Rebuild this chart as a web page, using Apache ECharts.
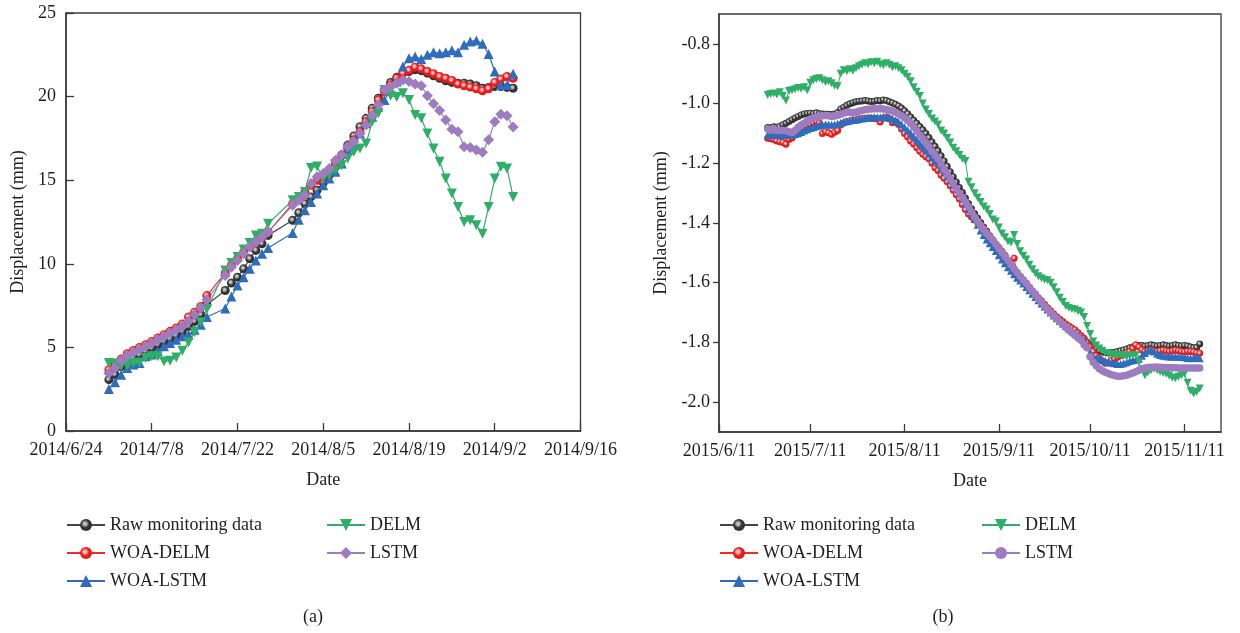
<!DOCTYPE html>
<html><head><meta charset="utf-8">
<script src="https://cdn.jsdelivr.net/npm/echarts@6/dist/echarts.min.js"></script>
<style>html,body{margin:0;padding:0;background:#fff;}#a{position:absolute;left:0;top:0;width:620px;height:633px;}#b{position:absolute;left:620px;top:0;width:620px;height:633px;}</style>
</head><body><div id="a"></div><div id="b"></div>
<script>
// ---------- Panel (a) ----------
const leftXTicks = ['2014/6/24','2014/7/8','2014/7/22','2014/8/5','2014/8/19','2014/9/2','2014/9/16'];
const leftDates = ['2014/7/1','2014/7/2','2014/7/3','2014/7/4','2014/7/5','2014/7/6','2014/7/7','2014/7/8','2014/7/9','2014/7/10','2014/7/11','2014/7/12','2014/7/13','2014/7/14','2014/7/15','2014/7/16','2014/7/17',
'2014/7/20','2014/7/21','2014/7/22','2014/7/23','2014/7/24','2014/7/25','2014/7/26','2014/7/27','2014/7/31',
'2014/8/1','2014/8/2','2014/8/3','2014/8/4','2014/8/5','2014/8/6','2014/8/7','2014/8/8','2014/8/9','2014/8/10','2014/8/11','2014/8/12','2014/8/13','2014/8/14','2014/8/15','2014/8/16','2014/8/17','2014/8/18','2014/8/19','2014/8/20','2014/8/21','2014/8/22','2014/8/23','2014/8/24','2014/8/25','2014/8/26','2014/8/27','2014/8/28','2014/8/29','2014/8/30','2014/8/31',
'2014/9/1','2014/9/2','2014/9/3','2014/9/4','2014/9/5'];
const leftRaw = [3.07,3.37,3.85,4.15,4.37,4.55,4.75,4.95,5.15,5.35,5.5,5.7,5.95,6.25,6.55,6.95,7.55,
8.4,8.85,9.2,9.7,10.3,10.8,11.2,11.7,12.6,
13.05,13.6,14.0,14.4,14.85,15.3,15.8,16.5,17.1,17.65,18.2,18.7,19.3,19.9,20.4,20.85,21.15,21.4,21.5,21.6,21.55,21.4,21.25,21.1,20.95,20.85,20.8,20.8,20.75,20.65,20.5,
20.55,20.6,20.6,20.55,20.5];
const leftWoaDelm = [3.66,4.0,4.3,4.62,4.82,5.0,5.16,5.36,5.56,5.76,5.96,6.16,6.4,6.82,7.1,7.45,8.1,
9.45,9.9,10.3,10.7,11.0,11.3,11.6,11.9,13.6,
13.9,14.3,14.7,15.0,15.3,15.6,16.0,16.5,16.9,17.4,17.9,18.5,19.1,19.8,20.3,20.7,21.1,21.4,21.57,21.76,21.66,21.5,21.37,21.2,21.1,20.97,20.75,20.65,20.57,20.47,20.35,
20.47,20.85,21.05,21.2,21.1];
const leftWoaLstm = [2.51,2.91,3.37,3.77,3.97,4.07,4.47,4.57,4.77,5.07,5.27,5.46,5.66,5.76,6.06,6.36,6.82,
7.33,8.05,8.7,9.2,9.7,10.2,10.6,10.95,11.84,
12.64,13.2,13.7,14.2,14.7,15.1,15.5,16.0,16.8,17.2,17.8,18.4,18.8,19.4,19.8,20.4,20.9,21.8,22.3,22.4,22.25,22.5,22.65,22.6,22.65,22.77,22.65,23.1,23.3,23.36,23.16,
22.55,21.5,20.7,20.7,21.37];
const leftDelm = [4.07,4.03,3.87,3.91,4.07,4.1,4.37,4.47,4.47,4.15,4.2,4.4,4.8,5.3,5.9,6.5,7.3,
9.6,10.05,10.4,10.85,11.25,11.7,11.8,12.4,13.8,
14.0,14.3,15.73,15.82,15.1,15.3,15.6,15.9,16.3,16.7,16.9,17.2,18.5,19.0,20.4,20.05,19.97,20.2,19.8,18.9,18.7,17.8,16.9,16.1,15.1,14.2,13.4,12.5,12.6,12.3,11.8,
13.4,15.1,15.8,15.7,14.0];
const leftLstm = [3.45,3.77,4.2,4.5,4.7,4.88,5.05,5.25,5.45,5.65,5.85,6.05,6.25,6.56,6.96,7.36,7.85,
9.3,9.8,10.2,10.6,11.0,11.3,11.6,11.9,13.5,
13.8,14.1,14.8,15.2,15.4,15.7,16.2,16.5,17.0,17.3,17.8,18.3,18.9,19.5,20.4,20.57,20.8,21.0,20.9,20.75,20.65,20.05,19.57,19.17,18.6,18.05,17.9,17.0,16.95,16.8,16.67,
17.42,18.5,18.95,18.85,18.18];

// ---------- Panel (b) ----------
const rightXTicks = ['2015/6/11','2015/7/11','2015/8/11','2015/9/11','2015/10/11','2015/11/11'];
const rightYTicks = [-2.0,-1.8,-1.6,-1.4,-1.2,-1.0,-0.8];
const rightStart = '2015/6/27'; // first daily sample
const rightRaw = [-1.080,-1.081,-1.078,-1.079,-1.076,-1.071,-1.066,-1.060,-1.054,-1.048,
-1.043,-1.038,-1.035,-1.033,-1.032,-1.033,-1.031,-1.034,-1.035,-1.036,
-1.036,-1.037,-1.035,-1.030,-1.018,-1.012,-1.006,-1.001,-0.997,-0.994,
-0.992,-0.991,-0.990,-0.991,-0.993,-0.992,-0.990,-0.991,-0.988,-0.990,
-0.994,-0.998,-1.002,-1.008,-1.015,-1.024,-1.034,-1.045,-1.056,-1.066,
-1.077,-1.088,-1.100,-1.114,-1.129,-1.143,-1.158,-1.175,-1.192,-1.210,
-1.228,-1.245,-1.263,-1.281,-1.298,-1.316,-1.335,-1.352,-1.368,-1.383,
-1.398,-1.413,-1.428,-1.443,-1.457,-1.472,-1.487,-1.501,-1.515,-1.529,
-1.543,-1.556,-1.569,-1.581,-1.593,-1.605,-1.617,-1.629,-1.641,-1.653,
-1.664,-1.675,-1.686,-1.697,-1.707,-1.716,-1.725,-1.734,-1.743,-1.751,
-1.759,-1.767,-1.775,-1.783,-1.791,-1.799,-1.807,-1.815,-1.822,-1.828,
-1.832,-1.834,-1.835,-1.834,-1.833,-1.830,-1.828,-1.825,-1.822,-1.818,
-1.815,-1.812,-1.810,-1.810,-1.812,-1.810,-1.808,-1.810,-1.812,-1.810,
-1.808,-1.810,-1.812,-1.810,-1.808,-1.810,-1.812,-1.810,-1.812,-1.815,
-1.818,-1.816,-1.805];
const rightWoaDelm = [-1.116,-1.118,-1.120,-1.125,-1.128,-1.130,-1.136,-1.120,-1.115,-1.105,
-1.098,-1.090,-1.082,-1.075,-1.070,-1.065,-1.060,-1.065,-1.100,-1.094,
-1.098,-1.103,-1.096,-1.090,-1.072,-1.065,-1.060,-1.058,-1.055,-1.055,
-1.052,-1.050,-1.050,-1.048,-1.050,-1.050,-1.052,-1.062,-1.048,-1.045,
-1.050,-1.064,-1.060,-1.070,-1.085,-1.100,-1.112,-1.125,-1.135,-1.148,
-1.160,-1.170,-1.178,-1.185,-1.200,-1.215,-1.225,-1.240,-1.250,-1.262,
-1.275,-1.290,-1.305,-1.320,-1.338,-1.355,-1.370,-1.380,-1.390,-1.398,
-1.408,-1.418,-1.430,-1.445,-1.458,-1.470,-1.482,-1.495,-1.508,-1.535,
-1.548,-1.518,-1.570,-1.582,-1.595,-1.606,-1.616,-1.628,-1.638,-1.650,
-1.660,-1.672,-1.684,-1.694,-1.704,-1.714,-1.722,-1.730,-1.738,-1.745,
-1.752,-1.758,-1.768,-1.778,-1.786,-1.800,-1.815,-1.830,-1.845,-1.855,
-1.862,-1.870,-1.868,-1.860,-1.855,-1.850,-1.845,-1.840,-1.835,-1.830,
-1.820,-1.808,-1.815,-1.825,-1.830,-1.828,-1.825,-1.828,-1.830,-1.828,
-1.826,-1.828,-1.830,-1.828,-1.826,-1.828,-1.830,-1.832,-1.830,-1.830,
-1.832,-1.835,-1.836];
const rightWoaLstm = [-1.105,-1.106,-1.104,-1.105,-1.106,-1.104,-1.105,-1.103,-1.104,-1.102,
-1.099,-1.095,-1.090,-1.086,-1.082,-1.079,-1.076,-1.073,-1.071,-1.070,
-1.070,-1.071,-1.070,-1.068,-1.064,-1.061,-1.059,-1.057,-1.055,-1.054,
-1.052,-1.050,-1.048,-1.047,-1.046,-1.045,-1.046,-1.046,-1.045,-1.046,
-1.048,-1.051,-1.056,-1.062,-1.070,-1.079,-1.089,-1.099,-1.110,-1.121,
-1.133,-1.144,-1.155,-1.168,-1.180,-1.190,-1.200,-1.215,-1.230,-1.244,
-1.258,-1.271,-1.285,-1.300,-1.315,-1.335,-1.355,-1.371,-1.387,-1.406,
-1.425,-1.440,-1.455,-1.468,-1.480,-1.494,-1.508,-1.522,-1.535,-1.548,
-1.560,-1.572,-1.583,-1.593,-1.603,-1.614,-1.625,-1.637,-1.648,-1.659,
-1.670,-1.680,-1.690,-1.700,-1.710,-1.719,-1.728,-1.737,-1.745,-1.753,
-1.760,-1.768,-1.775,-1.783,-1.790,-1.810,-1.835,-1.848,-1.853,-1.855,
-1.858,-1.862,-1.865,-1.868,-1.870,-1.872,-1.872,-1.870,-1.866,-1.862,
-1.860,-1.858,-1.855,-1.845,-1.835,-1.828,-1.825,-1.830,-1.838,-1.842,
-1.845,-1.846,-1.847,-1.848,-1.847,-1.848,-1.849,-1.850,-1.852,-1.853,
-1.852,-1.850,-1.853];
const rightDelm = [-0.971,-0.968,-0.966,-0.970,-0.962,-0.975,-0.990,-0.958,-0.955,-0.952,
-0.948,-0.950,-0.945,-0.955,-0.930,-0.922,-0.918,-0.915,-0.922,-0.928,
-0.925,-0.932,-0.940,-0.942,-0.900,-0.888,-0.892,-0.885,-0.890,-0.882,
-0.875,-0.870,-0.865,-0.868,-0.862,-0.865,-0.860,-0.868,-0.872,-0.865,
-0.870,-0.878,-0.875,-0.882,-0.888,-0.900,-0.910,-0.925,-0.945,-0.960,
-0.975,-1.000,-1.020,-1.035,-1.050,-1.060,-1.070,-1.090,-1.100,-1.115,
-1.130,-1.148,-1.160,-1.172,-1.185,-1.192,-1.262,-1.280,-1.300,-1.315,
-1.330,-1.345,-1.355,-1.370,-1.388,-1.395,-1.415,-1.435,-1.448,-1.462,
-1.465,-1.440,-1.470,-1.495,-1.510,-1.522,-1.540,-1.555,-1.568,-1.578,
-1.585,-1.590,-1.592,-1.600,-1.615,-1.632,-1.650,-1.665,-1.678,-1.684,
-1.688,-1.690,-1.695,-1.700,-1.715,-1.745,-1.772,-1.797,-1.810,-1.820,
-1.828,-1.835,-1.838,-1.840,-1.843,-1.845,-1.843,-1.845,-1.848,-1.845,
-1.842,-1.843,-1.865,-1.890,-1.910,-1.900,-1.893,-1.888,-1.892,-1.898,
-1.902,-1.905,-1.912,-1.918,-1.920,-1.915,-1.910,-1.905,-1.935,-1.962,
-1.971,-1.965,-1.954];
const rightLstm = [-1.085,-1.087,-1.088,-1.089,-1.089,-1.090,-1.091,-1.094,-1.097,-1.090,
-1.079,-1.072,-1.066,-1.058,-1.052,-1.048,-1.045,-1.043,-1.041,-1.040,
-1.041,-1.043,-1.042,-1.039,-1.036,-1.032,-1.029,-1.029,-1.030,-1.029,
-1.026,-1.023,-1.021,-1.019,-1.018,-1.017,-1.017,-1.017,-1.018,-1.020,
-1.022,-1.025,-1.029,-1.035,-1.041,-1.048,-1.057,-1.067,-1.079,-1.092,
-1.105,-1.117,-1.130,-1.145,-1.160,-1.172,-1.185,-1.202,-1.220,-1.236,
-1.252,-1.268,-1.285,-1.300,-1.315,-1.330,-1.345,-1.362,-1.380,-1.394,
-1.408,-1.422,-1.435,-1.446,-1.457,-1.471,-1.485,-1.498,-1.512,-1.526,
-1.540,-1.553,-1.566,-1.578,-1.590,-1.602,-1.615,-1.628,-1.640,-1.653,
-1.665,-1.678,-1.690,-1.700,-1.710,-1.720,-1.730,-1.740,-1.750,-1.759,
-1.768,-1.776,-1.785,-1.793,-1.808,-1.818,-1.848,-1.866,-1.878,-1.888,
-1.895,-1.900,-1.904,-1.908,-1.911,-1.913,-1.913,-1.912,-1.910,-1.906,
-1.902,-1.898,-1.893,-1.889,-1.886,-1.884,-1.883,-1.883,-1.882,-1.883,
-1.884,-1.884,-1.885,-1.885,-1.885,-1.886,-1.886,-1.886,-1.886,-1.886,
-1.886,-1.886,-1.886];

// ---------- helpers ----------
const FONT = '"Liberation Serif","Times New Roman",serif';
const AX = '#3a3a3a', TXT = '#1e1e1e';
function parseD(s){const p=s.split('/').map(Number);return Date.UTC(p[0],p[1]-1,p[2]);}
function dayDiff(a,b){return Math.round((parseD(b)-parseD(a))/86400000);}
function fmtDay(base,n){const t=new Date(parseD(base)+Math.round(n)*86400000);return t.getUTCFullYear()+'/'+(t.getUTCMonth()+1)+'/'+t.getUTCDate();}
const ball=(hi,lo)=>({type:'radial',x:0.42,y:0.4,r:0.6,colorStops:[{offset:0,color:hi},{offset:0.18,color:hi},{offset:0.55,color:lo},{offset:1,color:lo}]});
const COL={raw:'#474747',red:'#ec2d2d',blue:'#2f6cbd',green:'#2fae68',purple:'#9d7cbf'};
const RAWBALL=ball('#c4c4c4','#333333'), REDBALL=ball('#ffc2c2','#e61c1c');
function ser(name,data,lineColor,symbol,size,fill,rot,lw){
  return {type:'line',name,data,symbol,symbolSize:size,symbolRotate:rot||0,
    lineStyle:{color:lineColor,width:lw},itemStyle:{color:fill||lineColor,borderWidth:0},
    emphasis:{disabled:true},animation:false,z:2};
}
function legends(x1,x2){
  const base={orient:'vertical',top:516,padding:0,itemWidth:38,itemHeight:15,itemGap:10,
    textStyle:{fontFamily:FONT,fontSize:18,color:TXT},selectedMode:false};
  return [Object.assign({left:x1,data:['Raw monitoring data','WOA-DELM','WOA-LSTM']},base),
          Object.assign({left:x2,data:['DELM','LSTM']},base)];
}
const axText={fontFamily:FONT,fontSize:18,color:TXT};

// ---------- chart (a) ----------
const LB = leftXTicks[0];
const lx = leftDates.map(d=>dayDiff(LB,d));
const pairL = ys => lx.map((x,i)=>[x,ys[i]]);
const lTickDays = leftXTicks.map(d=>dayDiff(LB,d));
const chartA = echarts.init(document.getElementById('a'),null,{renderer:'canvas'});
chartA.setOption({
  animation:false,backgroundColor:'#fff',
  grid:{left:66,right:35,top:13,bottom:202,show:true,borderColor:AX,borderWidth:1.3},
  xAxis:{type:'value',min:lTickDays[0],max:lTickDays[lTickDays.length-1],interval:14,
    axisLine:{lineStyle:{color:AX,width:1.5}},axisTick:{inside:true,length:8,lineStyle:{color:AX,width:1.3}},
    splitLine:{show:false},
    axisLabel:Object.assign({margin:10,showMinLabel:true,showMaxLabel:true,formatter:v=>fmtDay(LB,v)},axText),
    name:'Date',nameLocation:'middle',nameGap:40,nameTextStyle:axText},
  yAxis:{type:'value',min:0,max:25,interval:5,
    axisLine:{show:true,lineStyle:{color:AX,width:1.5}},axisTick:{show:true,inside:true,length:8,lineStyle:{color:AX,width:1.3}},
    splitLine:{show:false},axisLabel:Object.assign({margin:10},axText),
    name:'Displacement (mm)',nameLocation:'middle',nameGap:38,nameTextStyle:axText},
  legend:legends(66,326),
  graphic:[{type:'text',x:313,y:617,style:{text:'(a)',font:'18px '+FONT,fill:TXT,textAlign:'center',textVerticalAlign:'middle'}}],
  series:[
    ser('Raw monitoring data',pairL(leftRaw),COL.raw,'circle',9,RAWBALL,0,1.2),
    ser('WOA-DELM',pairL(leftWoaDelm),COL.red,'circle',9,REDBALL,0,1.2),
    ser('WOA-LSTM',pairL(leftWoaLstm),COL.blue,'triangle',10,null,0,1.2),
    ser('DELM',pairL(leftDelm),COL.green,'triangle',10,null,180,1.2),
    ser('LSTM',pairL(leftLstm),COL.purple,'diamond',11,null,0,1.2)
  ]
});

// ---------- chart (b) ----------
const RB = rightXTicks[0];
const r0 = dayDiff(RB,rightStart);
const pairR = ys => ys.map((v,i)=>[r0+i,v]);
const rTickDays = rightXTicks.map(d=>dayDiff(RB,d));
const chartB = echarts.init(document.getElementById('b'),null,{renderer:'canvas'});
chartB.setOption({
  animation:false,backgroundColor:'#fff',
  grid:{left:99,right:19,top:14,bottom:201,show:true,borderColor:AX,borderWidth:1.3},
  xAxis:{type:'value',min:0,max:165,
    axisLine:{lineStyle:{color:AX,width:1.5}},
    axisTick:{inside:true,length:8,customValues:rTickDays,lineStyle:{color:AX,width:1.3}},
    splitLine:{show:false},
    axisLabel:Object.assign({margin:10,customValues:rTickDays,formatter:v=>fmtDay(RB,v)},axText),
    name:'Date',nameLocation:'middle',nameGap:40,nameTextStyle:axText},
  yAxis:{type:'value',min:-2.1,max:-0.7,
    axisLine:{show:true,lineStyle:{color:AX,width:1.5}},
    axisTick:{show:true,inside:false,length:6,customValues:rightYTicks,lineStyle:{color:AX,width:1.3}},
    splitLine:{show:false},
    axisLabel:Object.assign({margin:9,customValues:rightYTicks,formatter:v=>Number(v).toFixed(1)},axText),
    name:'Displacement (mm)',nameLocation:'middle',nameGap:48,nameTextStyle:axText},
  legend:legends(99,361),
  graphic:[{type:'text',x:323,y:617,style:{text:'(b)',font:'18px '+FONT,fill:TXT,textAlign:'center',textVerticalAlign:'middle'}}],
  series:[
    ser('Raw monitoring data',pairR(rightRaw),COL.raw,'circle',7,RAWBALL,0,1),
    ser('WOA-DELM',pairR(rightWoaDelm),COL.red,'circle',7,REDBALL,0,1),
    ser('WOA-LSTM',pairR(rightWoaLstm),COL.blue,'triangle',8,null,0,1),
    ser('DELM',pairR(rightDelm),COL.green,'triangle',8,null,180,1),
    ser('LSTM',pairR(rightLstm),COL.purple,'circle',7.5,null,0,1)
  ]
});
</script></body></html>
